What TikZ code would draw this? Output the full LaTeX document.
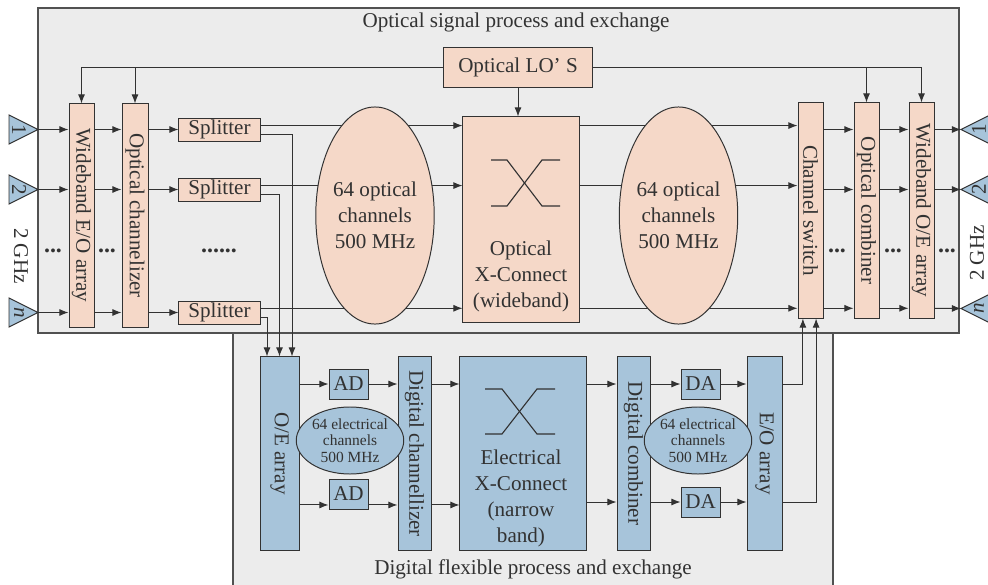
\documentclass[tikz,border=0pt]{standalone}
\usepackage{fontspec}
\setmainfont{Liberation Serif}
\usepackage{graphicx}
\usetikzlibrary{shapes.geometric, arrows.meta, positioning}

\definecolor{peach}{RGB}{245,216,200}
\definecolor{steel}{RGB}{167,196,218}
\definecolor{panelgray}{RGB}{236,236,236}
\definecolor{ink}{RGB}{50,50,50}

\begin{document}
\begin{tikzpicture}[x=0.025cm, y=-0.025cm, font=\fontsize{15}{18.5}\selectfont, text=ink,
    panel/.style={draw=ink!85, fill=panelgray, line width=0.9pt},
    optbox/.style={rectangle, draw=ink, fill=peach, inner sep=0pt, line width=0.7pt, align=center},
    elbox/.style={rectangle, draw=ink, fill=steel, inner sep=0pt, line width=0.7pt, align=center},
    chan/.style={ellipse, draw=ink, fill=peach, inner sep=0pt, line width=0.7pt, align=center},
    echan/.style={ellipse, draw=ink, fill=steel, inner sep=0pt, line width=0.7pt, align=center, font=\fontsize{11}{11.6}\selectfont},
    port/.style={draw=ink, fill=steel, line width=0.7pt},
    xsym/.style={draw=ink, line width=0.8pt},
    dotsep/.style={font=\fontsize{17}{17}\selectfont\bfseries, inner sep=0pt},
    line/.style={draw=ink, -{Latex[length=6.5pt, width=5pt]}, line width=0.7pt}]
    \useasboundingbox (0,0) rectangle (988,585);
    % panels
    \draw[panel] (233,333) rectangle (833,600);
    \draw[panel] (38,8) rectangle (959,333);
    \node (toptitle) at (516,22) {Optical signal process and exchange};
    \node (bottitle) at (533,569) {Digital flexible process and exchange};
    % input ports
    \draw[port] (9,115) -- (38,129.5) -- (9,144) -- cycle;
    \draw[port] (9,175) -- (38,189.5) -- (9,204) -- cycle;
    \draw[port] (9,298) -- (38,312.5) -- (9,327) -- cycle;
    \coordinate (in1) at (38,129.5);
    \coordinate (in2) at (38,189.5);
    \coordinate (in3) at (38,312.5);
    \node[rotate=-90] (lbl1) at (19,129.5) {1};
    \node[rotate=-90] (lbl2) at (19,189.5) {2};
    \node[rotate=-90] (lbl3) at (19,312.5) {\textit{n}};
    \node[rotate=-90] (ghzin) at (21,256) {2 GHz};
    % output ports
    \draw[port] (990,115) -- (961,129.5) -- (990,144) -- cycle;
    \draw[port] (990,175) -- (961,189.5) -- (990,204) -- cycle;
    \draw[port] (990,294) -- (961,308.5) -- (990,323) -- cycle;
    \coordinate (out1) at (961,129.5);
    \coordinate (out2) at (961,189.5);
    \coordinate (out3) at (961,308.5);
    \node[rotate=90] (lbl4) at (979,129.5) {1};
    \node[rotate=90] (lbl5) at (979,189.5) {2};
    \node[rotate=90] (lbl6) at (979,308.5) {\textit{n}};
    \node[rotate=90] (ghzout) at (977,253) {2 GHz};
    % optical part
    \node[optbox, minimum width=0.625cm, minimum height=5.575cm] (eo) at (81.5,215.5) {\rotatebox{-90}{Wideband E/O array}};
    \node[optbox, minimum width=0.65cm, minimum height=5.575cm] (och) at (135,215.5) {\rotatebox{-90}{Optical channelizer}};
    \node[optbox, minimum width=2.025cm, minimum height=0.575cm] (sp1) at (219.5,129.5) {Splitter};
    \node[optbox, minimum width=2.025cm, minimum height=0.575cm] (sp2) at (219.5,189.5) {Splitter};
    \node[optbox, minimum width=2.025cm, minimum height=0.575cm] (sp3) at (219.5,312.5) {Splitter};
    \node[optbox, minimum width=3.7cm, minimum height=1cm] (lo) at (518,67) {Optical LO’ S};
    \node[optbox, minimum width=2.9cm, minimum height=5.125cm] (ox) at (521,219.5) {};
    \node[align=center] (oxtext) at (521,276) {Optical\\X-Connect\\(wideband)};
    \draw[xsym] (491,160) -- (507,160) -- (542,206) -- (560,206);
    \draw[xsym] (491,206) -- (507,206) -- (542,160) -- (560,160);
    \node[optbox, minimum width=0.625cm, minimum height=5.375cm] (chsw) at (810.5,210.5) {\rotatebox{-90}{Channel switch}};
    \node[optbox, minimum width=0.625cm, minimum height=5.375cm] (comb) at (866.5,210.5) {\rotatebox{-90}{Optical combiner}};
    \node[optbox, minimum width=0.625cm, minimum height=5.375cm] (oe) at (921.5,210.5) {\rotatebox{-90}{Wideband O/E array}};
    % electrical part
    \node[elbox, minimum width=0.975cm, minimum height=4.825cm] (oeb) at (279.5,453.5) {\rotatebox{-90}{O/E array}};
    \node[elbox, minimum width=0.975cm, minimum height=0.75cm] (ad1) at (348.5,384) {AD};
    \node[elbox, minimum width=0.975cm, minimum height=0.75cm] (ad2) at (348.5,494) {AD};
    \node[elbox, minimum width=0.825cm, minimum height=4.825cm] (dch) at (414.5,453.5) {\rotatebox{-90}{Digital channellizer}};
    \node[elbox, minimum width=3.15cm, minimum height=4.825cm] (ex) at (523,453.5) {};
    \node[align=center] (extext) at (521,498.5) {Electrical\\X-Connect\\(narrow\\band)};
    \draw[xsym] (485,389) -- (502,389) -- (537,434) -- (555,434);
    \draw[xsym] (485,434) -- (502,434) -- (537,389) -- (555,389);
    \node[elbox, minimum width=0.825cm, minimum height=4.825cm] (dcomb) at (633.5,453.5) {\rotatebox{-90}{Digital combiner}};
    \node[elbox, minimum width=0.975cm, minimum height=0.75cm] (da1) at (700.5,384) {DA};
    \node[elbox, minimum width=0.975cm, minimum height=0.75cm] (da2) at (700.5,502) {DA};
    \node[elbox, minimum width=0.875cm, minimum height=4.825cm] (eob) at (764.5,453.5) {\rotatebox{-90}{E/O array}};
    \node[echan, minimum width=2.35cm, minimum height=1.675cm] (ech1) at (350,440.5) {64 electrical\\channels\\500 MHz};
    \node[echan, minimum width=2.35cm, minimum height=1.675cm] (ech2) at (698,440.5) {64 electrical\\channels\\500 MHz};
    % dots
    \node[dotsep] (dots1) at (53,251) {...};
    \node[dotsep] (dots2) at (107,251) {...};
    \node[dotsep] (dots3) at (219,251) {......};
    \node[dotsep] (dots4) at (837,251) {...};
    \node[dotsep] (dots5) at (893,251) {...};
    \node[dotsep] (dots6) at (947,251) {...};
    % LO feeds
    \path [line] (lo.west) -| (eo.north);
    \path [line] (lo.west) -| (och.north);
    \path [line] (lo.east) -| (comb.north);
    \path [line] (lo.east) -| (oe.north);
    \path [line] (lo.south) -- (lo.south |- ox.north);
    % inputs
    \path [line] (in1) -- (in1 -| eo.west);
    \path [line] (in2) -- (in2 -| eo.west);
    \path [line] (in3) -- (in3 -| eo.west);
    \path [line] (in1 -| eo.east) -- (in1 -| och.west);
    \path [line] (in2 -| eo.east) -- (in2 -| och.west);
    \path [line] (in3 -| eo.east) -- (in3 -| och.west);
    \path [line] (in1 -| och.east) -- (sp1.west);
    \path [line] (in2 -| och.east) -- (sp2.west);
    \path [line] (in3 -| och.east) -- (sp3.west);
    % splitters to the cross-connect and down
    \path [line] ([yshift=2.8pt]sp1.east) coordinate (r1) -- (r1 -| ox.west);
    \path [line] ([yshift=2.8pt]sp2.east) coordinate (r2) -- (r2 -| ox.west);
    \path [line] ([yshift=3pt]sp3.east) coordinate (r3) -- (r3 -| ox.west);
    \path [line] ([yshift=-3.2pt]sp1.east) -| (oeb.north -| 292,0);
    \path [line] ([yshift=-3.2pt]sp2.east) -| (oeb.north -| 279.5,0);
    \path [line] ([yshift=-3.8pt]sp3.east) -| (oeb.north -| 267,0);
    % cross-connect to outputs
    \path [line] (r1 -| ox.east) -- (r1 -| chsw.west);
    \path [line] (r2 -| ox.east) -- (r2 -| chsw.west);
    \path [line] (r3 -| ox.east) -- (r3 -| chsw.west);
    \path [line] (in1 -| chsw.east) -- (in1 -| comb.west);
    \path [line] (in2 -| chsw.east) -- (in2 -| comb.west);
    \path [line] (r3 -| chsw.east) -- (r3 -| comb.west);
    \path [line] (in1 -| comb.east) -- (in1 -| oe.west);
    \path [line] (in2 -| comb.east) -- (in2 -| oe.west);
    \path [line] (r3 -| comb.east) -- (r3 -| oe.west);
    \path [line] (in1 -| oe.east) -- (out1);
    \path [line] (in2 -| oe.east) -- (out2);
    \path [line] (r3 -| oe.east) -- (out3);
    % channel groups
    \node[chan, minimum width=2.4cm, minimum height=5.425cm] (ch1) at (375,215.5) {64 optical\\channels\\500 MHz};
    \node[chan, minimum width=2.325cm, minimum height=5.425cm] (ch2) at (678.5,215.5) {64 optical\\channels\\500 MHz};
    % electrical rows
    \coordinate (adrow) at ([yshift=-7.8pt]ad2.west);
    \path [line] (oeb.east |- ad1) -- (ad1.west);
    \path [line] (oeb.east |- adrow) -- (adrow);
    \path [line] (ad1.east) -- (ad1.east -| dch.west);
    \path [line] (adrow -| ad2.east) -- (adrow -| dch.west);
    \path [line] (dch.east |- ad1) -- (ex.west |- ad1);
    \path [line] (dch.east |- adrow) -- (ex.west |- adrow);
    \path [line] (ex.east |- da1) -- (dcomb.west |- da1);
    \path [line] (ex.east |- da2) -- (dcomb.west |- da2);
    \path [line] (dcomb.east |- da1) -- (da1.west);
    \path [line] (dcomb.east |- da2) -- (da2.west);
    \path [line] (da1.east) -- (da1.east -| eob.west);
    \path [line] (da2.east) -- (da2.east -| eob.west);
    \path [line] (eob.east |- da1) -| ([xshift=-0.19cm]chsw.south);
    \path [line] (eob.east |- da2) -| ([xshift=0.14cm]chsw.south);
\end{tikzpicture}
\end{document}
